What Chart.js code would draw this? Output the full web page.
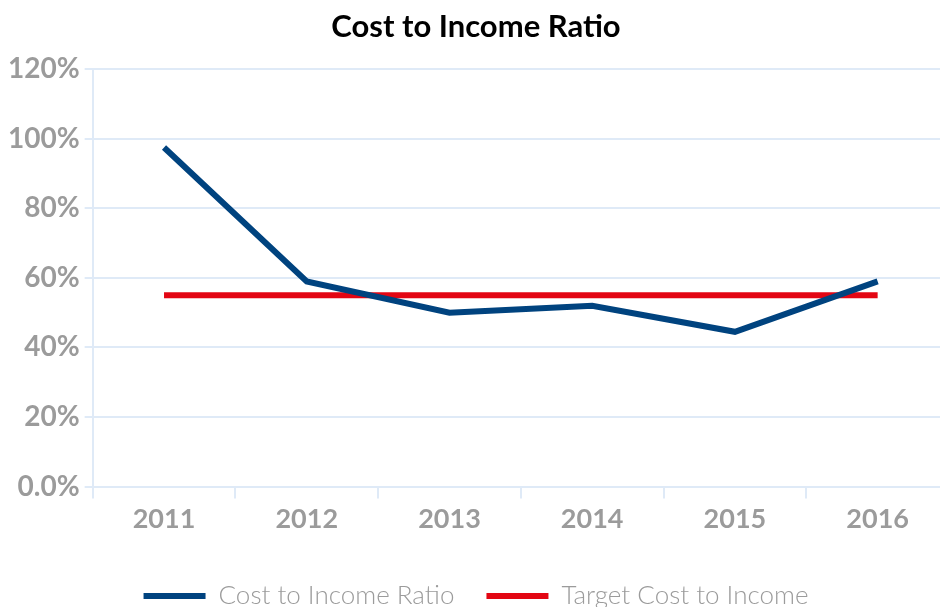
<!DOCTYPE html>
<html>
<head>
<meta charset="utf-8">
<script src="https://cdn.jsdelivr.net/npm/chart.js@4.4.1/dist/chart.umd.min.js"></script>
<style>
  html, body { margin: 0; padding: 0; background: #ffffff; overflow: hidden; }
  #wrap { width: 949px; height: 607px; position: relative; }
</style>
</head>
<body>
<div id="wrap"><canvas id="grafica"></canvas></div>
<script>
// datos
const years = ['2011', '2012', '2013', '2014', '2015', '2016'];
const costIncome = [97.5, 59, 50, 52, 44.5, 59];
const targetCost = [55, 55, 55, 55, 55, 55];
const yTicks = [0, 20, 40, 60, 80, 100, 120];

const blue = '#00437f';
const red = '#e30613';
const gridColor = '#dfeaf7';
const tickColor = '#9b9b9b';

// baja la leyenda hasta el borde inferior
const bajarLeyenda = {
    id: 'bajarLeyenda',
    afterLayout: function(chart) {
        if (chart.legend) {
            chart.legend.top += 12;
            chart.legend.bottom += 12;
        }
    }
};

document.addEventListener('DOMContentLoaded', function() {
    const ctx = document.getElementById('grafica').getContext('2d');
    new Chart(ctx, {
        type: 'line',
        data: {
            labels: years,
            datasets: [{
                label: 'Cost to Income Ratio',
                data: costIncome,
                borderColor: blue,
                backgroundColor: blue,
                borderWidth: 6,
                pointRadius: 0,
                tension: 0
            }, {
                label: 'Target Cost to Income',
                data: targetCost,
                borderColor: red,
                backgroundColor: red,
                borderWidth: 6,
                pointRadius: 0,
                borderCapStyle: 'butt',
                tension: 0
            }]
        },
        options: {
            responsive: true,
            maintainAspectRatio: false,
            animation: false,
            layout: { padding: { left: 3, right: 0, top: 0, bottom: 0 } },
            scales: {
                x: {
                    offset: true,
                    grid: { color: gridColor, lineWidth: 2, offset: true, drawOnChartArea: false, tickLength: 12 },
                    border: { color: gridColor, width: 2 },
                    ticks: { color: tickColor, font: { family: 'Lato', size: 27, weight: 'bold' }, padding: 4 }
                },
                y: {
                    min: 0,
                    max: 120,
                    afterBuildTicks: function(axis) { axis.ticks = yTicks.map(v => ({ value: v })); },
                    grid: { color: gridColor, lineWidth: 2, tickLength: 8 },
                    border: { color: gridColor, width: 2 },
                    ticks: {
                        color: tickColor,
                        font: { family: 'Lato', size: 28, weight: 'bold' },
                        padding: 5,
                        callback: function(v) { return v === 0 ? '0.0%' : v + '%'; }
                    }
                }
            },
            plugins: {
                title: {
                    display: true,
                    text: 'Cost to Income Ratio',
                    color: '#000000',
                    font: { family: 'Lato', size: 31, weight: 'bold' },
                    padding: { top: 8, bottom: 24 }
                },
                legend: {
                    position: 'bottom',
                    labels: {
                        color: tickColor,
                        font: { family: 'Lato', size: 26, weight: 300 },
                        boxWidth: 62,
                        boxHeight: 6,
                        padding: 32,
                        generateLabels: function(chart) {
                            return chart.data.datasets.map((ds, i) => ({
                                text: ds.label,
                                fillStyle: ds.borderColor,
                                strokeStyle: ds.borderColor,
                                lineWidth: 0,
                                fontColor: tickColor,
                                datasetIndex: i
                            }));
                        }
                    }
                },
                tooltip: { enabled: false }
            }
        },
        plugins: [bajarLeyenda]
    });
});
</script>
</body>
</html>
